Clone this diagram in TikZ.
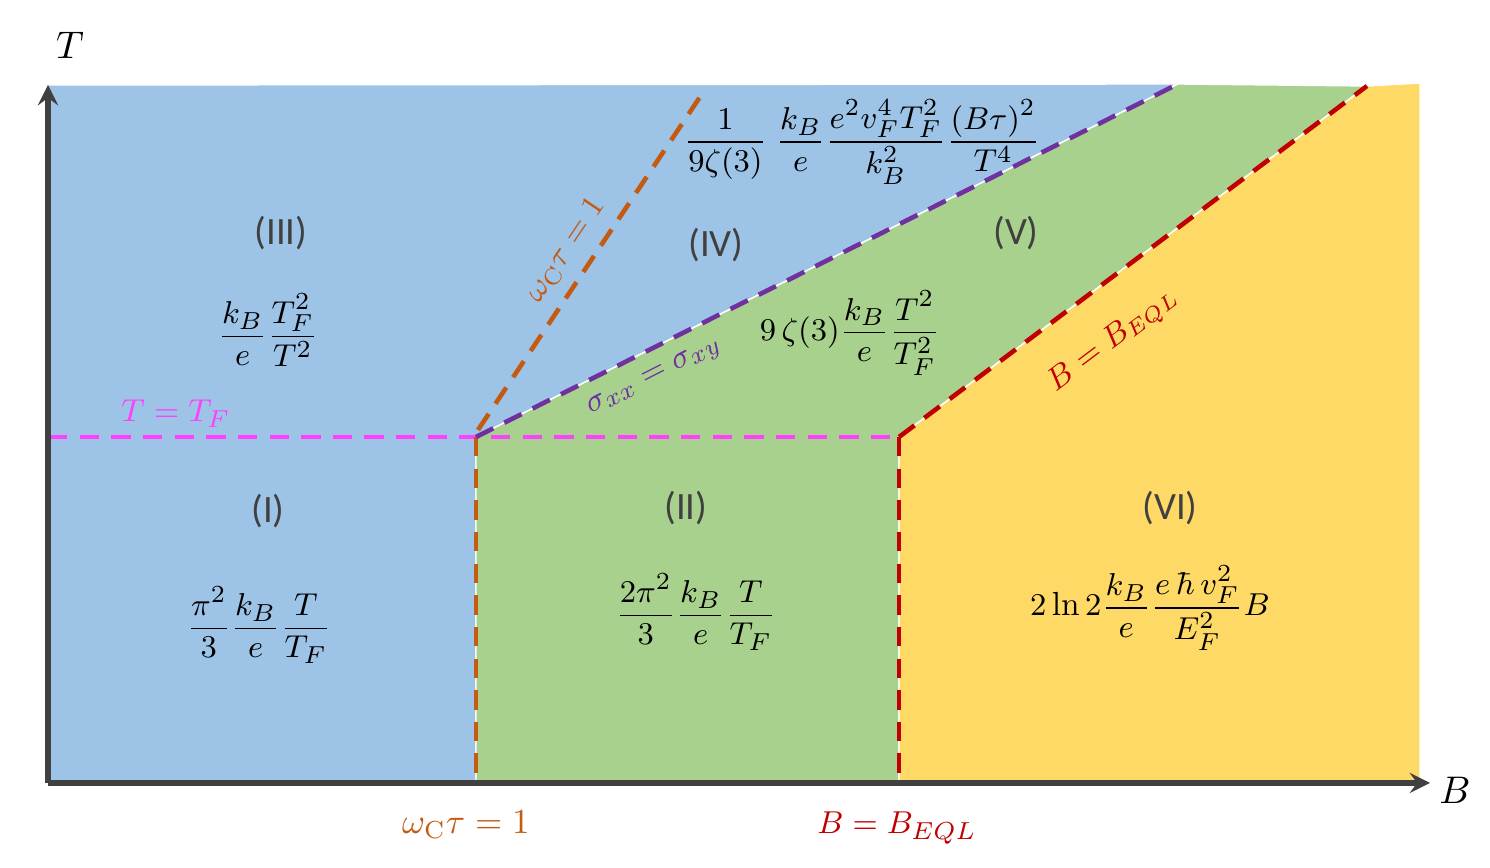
\documentclass[tikz,border=0pt]{standalone}
\usepackage{amsmath}
\usepackage{fontspec}
\newfontfamily\regfont{Carlito}
\usetikzlibrary{arrows.meta}
\tikzset{>=stealth}
\definecolor{regblue}{HTML}{9DC3E6}
\definecolor{reggreen}{HTML}{A9D18E}
\definecolor{regyellow}{HTML}{FFD966}
\definecolor{axgray}{HTML}{404040}
\definecolor{lnorange}{HTML}{C55A11}
\definecolor{lnpink}{HTML}{FF40FF}
\definecolor{lnpurple}{HTML}{7030A0}
\definecolor{lnred}{HTML}{C00000}
\tikzset{
  bound/.style={line width=1.3pt, dash pattern=on 5.5pt off 3.5pt},
  reglabel/.style={font=\regfont\fontsize{11}{13}\selectfont, text=axgray, inner sep=1pt},
  formula/.style={font=\fontsize{9.5}{11}\selectfont, inner sep=1pt}
}

\begin{document}
\begin{tikzpicture}[x=0.01cm,y=-0.01cm]
		\useasboundingbox (0,0) rectangle (1490,868);
		% corner points of the regions
		\coordinate (O) at (48,783);
		\coordinate (wt) at (476,437);
		\coordinate (bq) at (899,437);
		\coordinate (wttop) at (706,88);
		\coordinate (sgtop) at (1178,84);
		\coordinate (bqtop) at (1367,86);
		% regions
		\fill[regblue, draw=white, thin] (48,85) -- (sgtop) -- (wt) -- (476,783) -- (O) -- cycle;
		\fill[reggreen, draw=white, thin] (wt) -- (sgtop) -- (bqtop) -- (bq) -- (899,783) -- (476,783) -- cycle;
		\fill[regyellow, draw=white, thin] (bq) -- (bqtop) -- (1420,83) -- (1420,783) -- (899,783) -- cycle;
		% boundaries
		\draw[bound, lnpink] (48,437) -- (bq);
		\draw[bound, lnorange] (wt) -- (476,783);
		\draw[bound, lnorange] (478,430) -- (wttop);
		\draw[bound, lnpurple] (wt) -- (sgtop);
		\draw[bound, lnred] (bq) -- (899,783);
		\draw[bound, lnred] (bq) -- (bqtop);
		% axes
		\draw[->, line width=1.5pt, axgray] (O) -- (48,85);
		\draw[->, line width=1.5pt, axgray] (O) -- (1430,783);
		\node[formula, font=\fontsize{10.5}{12}\selectfont] (Tax) at (70,45) {$T$};
		\node[formula, font=\fontsize{10.5}{12}\selectfont] (Bax) at (1455,790) {$B$};
		% region labels
		\node[reglabel] (rIII) at (281,233) {(III)};
		\node[reglabel] (rIV) at (716,245) {(IV)};
		\node[reglabel] (rV) at (1016,233) {(V)};
		\node[reglabel] (rI) at (268,511) {(I)};
		\node[reglabel] (rII) at (686,508) {(II)};
		\node[reglabel] (rVI) at (1170,508) {(VI)};
		% formulas
		\node[formula] (fIII) at (268,330) {$\dfrac{k_B}{e}\dfrac{T_F^2}{T^2}$};
		\node[formula] (fIV) at (862,142) {$\dfrac{1}{9\zeta(3)}\;\dfrac{k_B}{e}\dfrac{e^2v_F^4T_F^2}{k_B^2}\dfrac{(B\tau)^2}{T^4}$};
		\node[formula] (fV) at (850,333) {$9\,\zeta(3)\dfrac{k_B}{e}\dfrac{T^2}{T_F^2}$};
		\node[formula] (fI) at (259,625) {$\dfrac{\pi^2}{3}\dfrac{k_B}{e}\dfrac{T}{T_F}$};
		\node[formula] (fII) at (696,612) {$\dfrac{2\pi^2}{3}\dfrac{k_B}{e}\dfrac{T}{T_F}$};
		\node[formula] (fVI) at (1150,608) {$2\ln 2\dfrac{k_B}{e}\dfrac{e\,\hbar\,v_F^2}{E_F^2}B$};
		% line labels
		\node[formula, text=lnpink] (lTF) at (176,414) {$T=T_F$};
		\node[formula, text=lnorange, rotate=56] (lwt) at (566,250) {$\omega_{\mathrm{C}}\tau=1$};
		\node[formula, text=lnpurple, rotate=27] (lsg) at (655,378) {$\sigma_{xx}=\sigma_{xy}$};
		\node[formula, text=lnred, rotate=37, font=\fontsize{9}{11}\selectfont] (lbq) at (1113,340) {$B=B_{EQL}$};
		\node[formula, text=lnorange, font=\fontsize{10}{12}\selectfont] (bwt) at (466,825) {$\omega_{\mathrm{C}}\tau=1$};
		\node[formula, text=lnred, font=\fontsize{9.5}{12}\selectfont] (bbq) at (897,828) {$B=B_{EQL}$};
	\end{tikzpicture}
\end{document}
